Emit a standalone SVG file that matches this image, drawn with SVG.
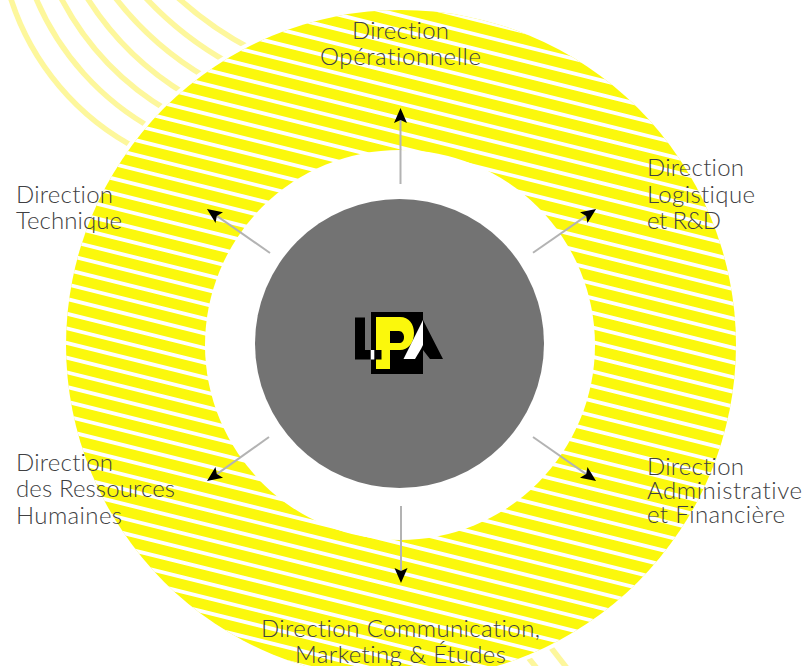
<svg xmlns="http://www.w3.org/2000/svg" width="804" height="666" viewBox="0 0 804 666">
<style>
.t{font-family:"Lato","Liberation Sans",sans-serif;font-size:24px;font-weight:300;fill:#404042;font-variant-ligatures:none}
.arc{fill:none;stroke:#fdf79c;stroke-width:5.5}
.c{stroke:#b3b3b3;stroke-width:2;fill:none;marker-end:url(#ah)}
</style>
<defs>
<clipPath id="dc"><circle cx="401" cy="345" r="335"/></clipPath>
<marker id="ah" markerUnits="userSpaceOnUse" markerWidth="20" markerHeight="16" refX="3" refY="7" orient="auto" overflow="visible">
<path d="M0 0.5L15 7L0 13.5L3 7z" fill="#000"/>
</marker>
</defs>
<rect width="804" height="666" fill="#fff"/>
<g id="arcs">
<path class="arc" d="M10 -4A258 258 0 0 0 140 150"/>
<path class="arc" d="M35 -4A270 270 0 0 0 155 130"/>
<path class="arc" d="M60 -4A285 285 0 0 0 170 112"/>
<path class="arc" d="M86 -4A300 300 0 0 0 187 95"/>
<path class="arc" d="M114 -4A320 320 0 0 0 207 78"/>
<path class="arc" d="M144 -4A340 340 0 0 0 229 63"/>
<path class="arc" d="M176 -4A360 360 0 0 0 253 50"/>
<path class="arc" d="M545 640L570 672"/>
<path class="arc" d="M522 650L540 672"/>
</g>
<g id="disc">
<circle cx="401" cy="345" r="339" fill="#fff"/>
<circle cx="401" cy="345" r="335" fill="#fbf80c"/>
<g clip-path="url(#dc)">
<line transform="translate(600 254) rotate(14)" x1="0" y1="-569.2" x2="0" y2="569.2" stroke="#fff" stroke-width="1600" stroke-dasharray="3.8 10.43"/>
</g>
<circle cx="400" cy="345" r="195" fill="#fff"/>
</g>
<g id="centre">
<circle cx="399.5" cy="343.5" r="144.5" fill="#737373"/>
<g id="logo">
<rect x="371" y="312" width="52" height="62" fill="#000"/>
<path d="M376 317H400C409 317 414 324 414 333C414 343 408 350 400 350H390V369H376Z" fill="#fbf80c"/>
<path d="M390 331H399C402 331 404 334 404 337C404 341 402 343 399 343H390Z" fill="#000"/>
<path d="M355 317.500H365V350H381.500V359.500H355Z" fill="#000"/>
<rect x="370.700" y="350" width="3.600" height="9.500" fill="#fff"/>
<path d="M423 320L443 359H430L423 350L419 359H415Z" fill="#000"/>
<path d="M423 320L403.500 359H415L421 349L423 345Z" fill="#fff"/>
</g>
</g>
<g id="connectors">
<line class="c" x1="400.500" y1="184" x2="400.500" y2="120"/>
<line class="c" x1="533" y1="252.700" x2="586.200" y2="215.900"/>
<line class="c" x1="533" y1="437" x2="586.200" y2="474.100"/>
<line class="c" x1="401" y1="506" x2="401" y2="571"/>
<line class="c" x1="269" y1="437" x2="216.800" y2="474.100"/>
<line class="c" x1="270" y1="253" x2="216.800" y2="215.900"/>
</g>
<g id="n-operationnelle"><text class="t" x="352" y="39" textLength="97">Direction</text><text class="t" x="320" y="65" textLength="161">Opérationnelle</text></g>
<g id="n-logistique"><text class="t" x="647" y="176" textLength="97">Direction</text><text class="t" x="647" y="203" textLength="108">Logistique</text><text class="t" x="647" y="229" textLength="74">et R&amp;D</text></g>
<g id="n-administrative"><text class="t" x="647" y="475" textLength="97">Direction</text><text class="t" x="647" y="499" textLength="155">Administrative</text><text class="t" x="647" y="523" textLength="138">et Financière</text></g>
<g id="n-communication"><text class="t" x="261" y="637" textLength="279">Direction Communication,</text><text class="t" x="295" y="663" textLength="211">Marketing &amp; Études</text></g>
<g id="n-rh"><text class="t" x="16" y="471" textLength="97">Direction</text><text class="t" x="16" y="497" textLength="159">des Ressources</text><text class="t" x="16" y="524" textLength="106">Humaines</text></g>
<g id="n-technique"><text class="t" x="16" y="203" textLength="97">Direction</text><text class="t" x="16" y="229" textLength="106">Technique</text></g>
</svg>
